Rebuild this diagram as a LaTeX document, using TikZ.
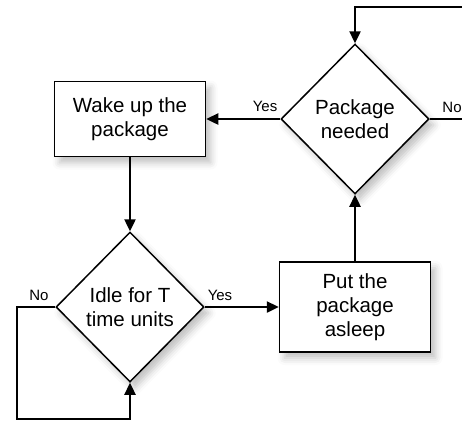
\documentclass[tikz,border=0pt]{standalone}
\usepackage{fontspec}
\setmainfont{Liberation Sans}
\usetikzlibrary{shapes.geometric,arrows.meta,shadows.blur}
\begin{document}
\begin{tikzpicture}[x=1pt,y=1pt,
  shad/.style={blur shadow={shadow xshift=5pt,shadow yshift=-6pt,shadow blur radius=7pt,shadow opacity=25}},
  boxnode/.style={draw,line width=1.5pt,fill=white,shad,align=center,font=\fontsize{20.5}{24}\selectfont,inner sep=0pt},
  decision/.style={diamond,draw,line width=1.5pt,fill=white,shad,align=center,font=\fontsize{20.5}{24}\selectfont,inner sep=0pt,minimum width=148pt,minimum height=150pt},
  conn/.style={line width=2.4pt,-{Triangle[length=12pt,width=11pt]}},
  plain/.style={line width=2.4pt},
  lbl/.style={font=\fontsize{15}{17}\selectfont,inner sep=0pt}]
\useasboundingbox (0,0) rectangle (462,-421);
\node[decision] (need) at (355,-119) {Package\\needed};
\node[boxnode,minimum width=151pt,minimum height=75pt] (wake) at (130,-119) {Wake up the\\package};
\node[decision] (idle) at (130,-307) {Idle for T\\time units};
\node[boxnode,minimum width=151pt,minimum height=90pt] (sleep) at (355,-307) {Put the\\package\\asleep};
\coordinate (topr) at (475,-7);
\coordinate (topl) at (355,-7);
\coordinate (nor) at (475,-119);
\coordinate (lp1) at (17,-307);
\coordinate (lp2) at (17,-419);
\coordinate (lp3) at (130,-419);
\draw[conn] (topr) -- (topl) -- (need.north);
\draw[plain] (need.east) -- (nor);
\draw[conn] (need.west) -- (wake.east);
\draw[conn] (wake.south) -- (idle.north);
\draw[conn] (idle.east) -- (sleep.west);
\draw[conn] (sleep.north) -- (need.south);
\draw[conn] (idle.west) -- (lp1) -- (lp2) -- (lp3) -- (idle.south);
\node[lbl] (yes1) at (265,-106) {Yes};
\node[lbl] (no1) at (452,-107) {No};
\node[lbl] (no2) at (39,-295) {No};
\node[lbl] (yes2) at (220,-295) {Yes};
\end{tikzpicture}
\end{document}
